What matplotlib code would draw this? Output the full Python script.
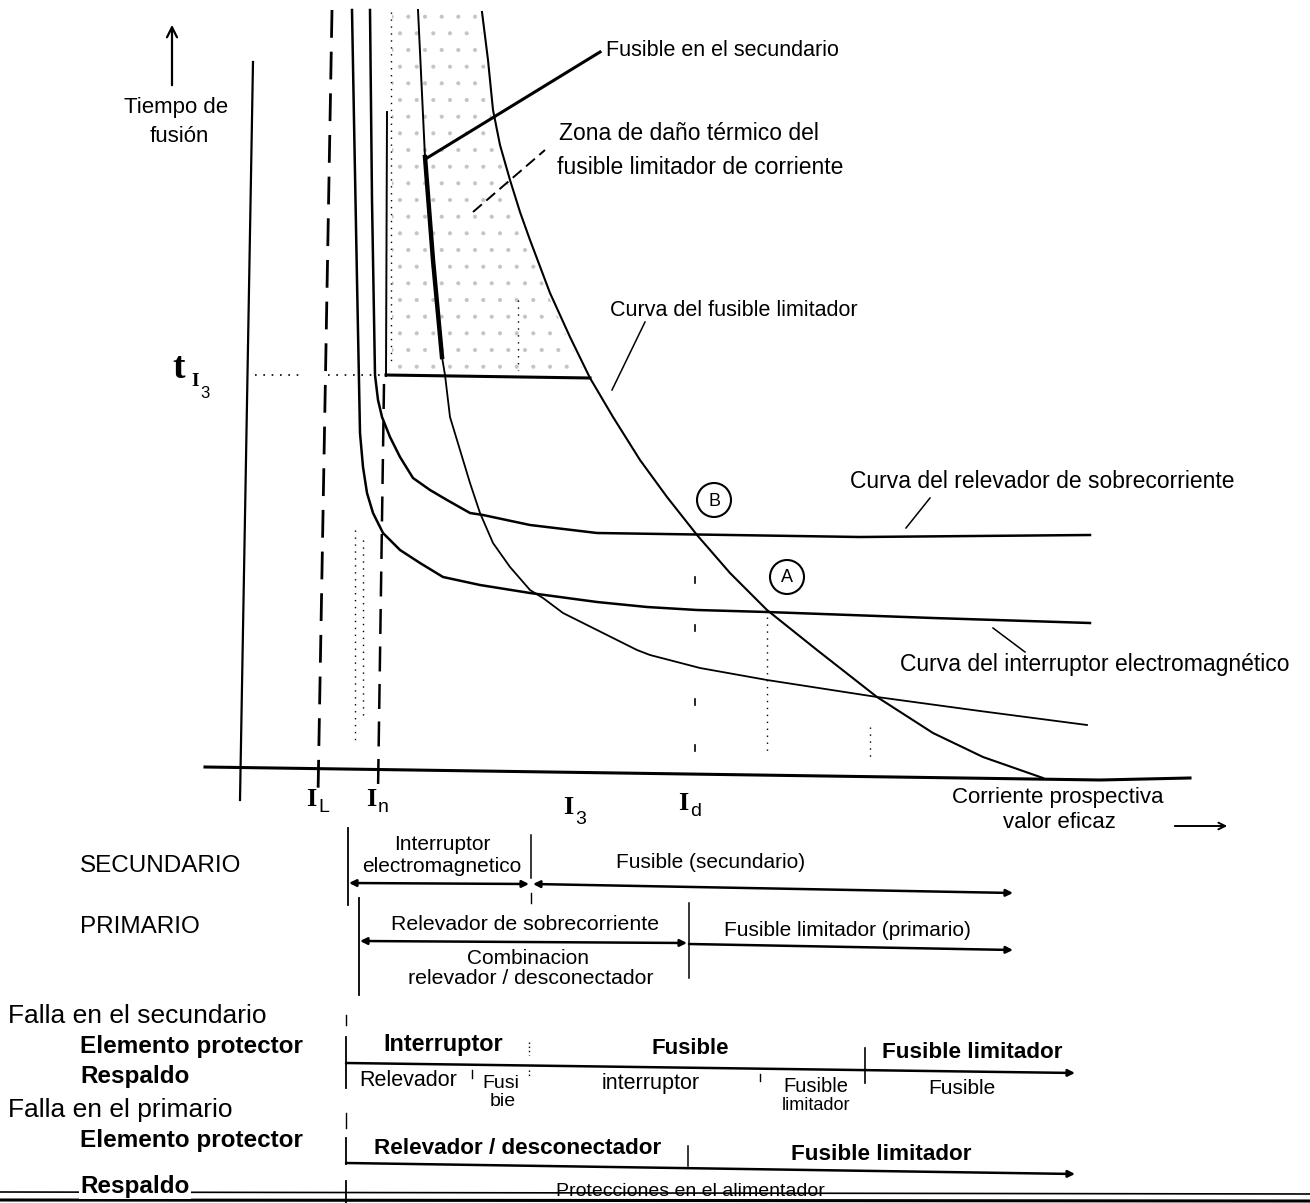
import numpy as np
import matplotlib
matplotlib.use("Agg")
import matplotlib.pyplot as plt
from matplotlib.patches import Circle

plt.rcParams['font.family'] = ['Liberation Sans', 'DejaVu Sans']
plt.rcParams['hatch.linewidth'] = 0.5

# ---- curve data (diagram units, y grows downward) ----
interruptor_x = [352, 354, 357, 360, 363, 367, 373, 383, 400, 420, 443, 480, 530, 597, 647, 697, 767, 850, 933, 1090]
interruptor_y = [10, 120, 280, 433, 467, 493, 513, 533, 550, 563, 577, 585, 593, 602, 607, 610, 612, 615, 618, 623]

relevador_x = [370, 372, 375, 378, 382, 390, 400, 413, 430, 447, 470, 483, 530, 597, 663, 730, 860, 1090]
relevador_y = [10, 200, 375, 400, 417, 437, 457, 478, 490, 500, 513, 515, 525, 533, 534, 535, 537, 535]

fus_sec_top_x = [418, 425]
fus_sec_top_y = [10, 157]
fus_sec_thick_x = [425, 433, 442]
fus_sec_thick_y = [157, 260, 357]
fus_sec_x = [442, 445, 450, 460, 470, 480, 493, 510, 530, 543, 563, 597, 637, 650, 700, 767, 877, 980, 1087]
fus_sec_y = [357, 375, 417, 450, 483, 513, 543, 567, 590, 598, 613, 630, 650, 655, 668, 680, 697, 711, 725]

limitador_x = [482, 488, 493, 500, 510, 520, 530, 550, 570, 590, 613, 640, 667, 697, 730, 767, 817, 877, 933, 983, 1043]
limitador_y = [12, 60, 110, 145, 180, 212, 240, 293, 337, 378, 417, 460, 497, 535, 573, 610, 650, 697, 733, 757, 778]

tI3_level = 376
Id_tick_y = [580, 628, 702, 748]

fig = plt.figure(figsize=(13.10, 12.03), dpi=100)
ax = fig.add_axes([0, 0, 1, 1])
ax.set_xlim(0, 1310)
ax.set_ylim(1203, 0)
ax.axis('off')

K = 'black'

# stippled thermal damage zone
yy = np.linspace(10, tI3_level - 4, 60)
xr = np.interp(yy, limitador_y, limitador_x)
ax.fill_betweenx(yy, 392, xr - 3, facecolor='none', edgecolor='#c4c4c4', hatch='.', linewidth=0)

# axes
ax.plot([253, 240], [62, 800], color=K, lw=1.6)
ax.plot([205, 1100, 1190], [767, 780, 778], color=K, lw=2.2)
ax.annotate('', xy=(172, 22), xytext=(172, 88),
            arrowprops=dict(arrowstyle='->', color=K, lw=1.6, mutation_scale=18))

# I_L and I_n verticals
ax.plot([332, 318], [10, 795], color=K, lw=2, dashes=(10, 5))
ax.plot([387, 386], [112, 376], color=K, lw=1.4)
ax.plot([384, 378], [384, 792], color=K, lw=1.8, dashes=(10, 5))

# curves
ax.plot(interruptor_x, interruptor_y, color=K, lw=1.8)
ax.plot(relevador_x, relevador_y, color=K, lw=1.8)
ax.plot(fus_sec_top_x, fus_sec_top_y, color=K, lw=1.4)
ax.plot(fus_sec_thick_x, fus_sec_thick_y, color=K, lw=3.2)
ax.plot(fus_sec_x, fus_sec_y, color=K, lw=1.3)
ax.plot(limitador_x, limitador_y, color=K, lw=1.5)

# t_I3 level
ax.plot([255, 300], [375, 375], color=K, lw=1.2, ls=(0, (1, 4)))
ax.plot([328, 384], [375, 375], color=K, lw=1.2, ls=(0, (1, 4)))
ax.plot([386, 590], [375, 378], color=K, lw=2.2)

# dotted verticals
for xv, y0, y1 in [(767, 617, 755), (870, 727, 758), (518, 300, 370),
                   (355, 530, 740), (363, 540, 720), (391, 12, 365)]:
    ax.plot([xv, xv], [y0, y1], color=K, lw=1.0, ls=(0, (1, 4)))
for yv in Id_tick_y:
    ax.plot([695, 695], [yv - 3, yv + 3], color=K, lw=1.2)

# leaders
ax.plot([427, 600], [158, 52], color=K, lw=2.2)
ax.plot([473, 545], [212, 150], color=K, lw=1.4, dashes=(6, 3))
ax.plot([612, 645], [390, 322], color=K, lw=1.1)
ax.plot([906, 930], [528, 498], color=K, lw=1.1)
ax.plot([993, 1025], [628, 652], color=K, lw=1.1)

# circles A, B
for cx, cy, lab in [(714, 500, 'B'), (787, 577, 'A')]:
    ax.add_patch(Circle((cx, cy), 17, fill=False, ec=K, lw=1.5))
    ax.text(cx, cy + 1, lab, ha='center', va='center', fontsize=13)

def T(s, x, y, size=15, ha='left', weight='normal', **kw):
    ax.text(x, y, s, ha=ha, va='center', fontsize=size, fontweight=weight, color=K, **kw)

T("Fusible en el secundario", 606, 50, 15.5)
T("Zona de daño térmico del", 559, 133, 16.5)
T("fusible limitador de corriente", 557, 168, 16.5)
T("Curva del fusible limitador", 610, 310, 15.5)
T("Curva del relevador de sobrecorriente", 850, 482, 16.5)
T("Curva del interruptor electromagnético", 900, 665, 16.5)
T("Tiempo de", 176, 108, 16, ha='center')
T("fusión", 179, 136, 16, ha='center')
T("Corriente prospectiva", 952, 797, 16)
T("valor eficaz", 1003, 823, 16)
ax.annotate('', xy=(1230, 826), xytext=(1172, 826),
            arrowprops=dict(arrowstyle='->', color=K, lw=1.4, mutation_scale=12))

# tick labels
serif = ['Liberation Serif', 'DejaVu Serif']
def sub(x, y, main, s, dx=12, dy=8, size=19, ssize=14):
    ax.text(x, y, main, ha='left', va='center', fontsize=size, fontweight='bold',
            family=serif, color=K)
    ax.text(x + dx, y + dy, s, ha='left', va='center', fontsize=ssize, color=K)

sub(306, 800, 'I', 'L')
sub(366, 800, 'I', 'n')
sub(563, 808, 'I', '3', dy=12)
sub(678, 804, 'I', 'd')
ax.text(172, 368, 't', ha='left', va='center', fontsize=27, fontweight='bold', family=serif, color=K)
ax.text(191, 381, 'I', ha='left', va='center', fontsize=14, fontweight='bold', family=serif, color=K)
ax.text(200, 393, '3', ha='left', va='center', fontsize=12, color=K)

# ---- lower table ----
T("SECUNDARIO", 80, 866, 17.5)
T("PRIMARIO", 80, 927, 17.5)
ax.plot([348, 348], [828, 905], color=K, lw=1.3)
ax.plot([531, 531], [835, 878], color=K, lw=1.1)
ax.plot([531, 531], [893, 903], color=K, lw=1.0)
T("Interruptor", 442, 845, 15, ha='center')
T("electromagnetico", 442, 867, 15, ha='center')
T("Fusible (secundario)", 711, 862, 15, ha='center')
ap = dict(arrowstyle='<|-|>', color=K, lw=1.8, mutation_scale=10, shrinkA=0, shrinkB=0)
ax.annotate('', xy=(529, 884), xytext=(349, 883), arrowprops=ap)
ax.annotate('', xy=(1013, 893), xytext=(533, 884), arrowprops=ap)

ax.plot([359, 359], [898, 995], color=K, lw=1.3)
ax.plot([689, 689], [903, 978], color=K, lw=1.1)
T("Relevador de sobrecorriente", 525, 925, 15.3, ha='center')
T("Fusible limitador (primario)", 847, 930, 15, ha='center')
ax.annotate('', xy=(687, 943), xytext=(360, 941), arrowprops=ap)
ax.annotate('', xy=(1013, 950), xytext=(689, 944),
            arrowprops=dict(arrowstyle='-|>', color=K, lw=1.8, mutation_scale=10, shrinkA=0, shrinkB=0))
T("Combinacion", 528, 958, 15, ha='center')
T("relevador / desconectador", 531, 978, 15.3, ha='center')

# falla en el secundario
T("Falla en el secundario", 8, 1016, 19)
T("Elemento protector", 80, 1047, 17.5, weight='bold')
T("Respaldo", 80, 1077, 17.5, weight='bold')
ax.plot([346, 346], [1037, 1088], color=K, lw=1.3)
ax.plot([346, 346], [1015, 1025], color=K, lw=1.0)
ax.annotate('', xy=(1075, 1073), xytext=(346, 1063),
            arrowprops=dict(arrowstyle='-|>', color=K, lw=1.8, mutation_scale=10, shrinkA=0, shrinkB=0))
ax.plot([865, 865], [1048, 1083], color=K, lw=1.2)
ax.plot([529, 529], [1042, 1055], color=K, lw=1.0, ls=(0, (1, 2)))
ax.plot([529, 529], [1070, 1078], color=K, lw=1.0, ls=(0, (1, 2)))
ax.plot([472, 472], [1070, 1078], color=K, lw=1.0)
ax.plot([760, 760], [1074, 1081], color=K, lw=1.0)
T("Interruptor", 443, 1045, 16.8, ha='center', weight='bold')
T("Fusible", 690, 1048, 16, ha='center', weight='bold')
T("Fusible limitador", 972, 1053, 16.2, ha='center', weight='bold')
T("Relevador", 408, 1080, 15.5, ha='center')
T("Fusi", 501, 1083, 14, ha='center')
T("bie", 503, 1101, 14, ha='center')
T("interruptor", 651, 1083, 15.5, ha='center')
T("Fusible", 816, 1087, 14.5, ha='center')
T("limitador", 816, 1105, 13, ha='center')
T("Fusible", 962, 1089, 15, ha='center')

# falla en el primario
T("Falla en el primario", 8, 1110, 19)
T("Elemento protector", 80, 1141, 17.5, weight='bold')
ax.plot([346, 346], [1138, 1164], color=K, lw=1.3)
ax.plot([346, 346], [1113, 1128], color=K, lw=1.0)
ax.annotate('', xy=(1075, 1174), xytext=(346, 1163),
            arrowprops=dict(arrowstyle='-|>', color=K, lw=1.8, mutation_scale=10, shrinkA=0, shrinkB=0))
ax.plot([688, 688], [1146, 1166], color=K, lw=1.1)
T("Relevador / desconectador", 518, 1148, 16.2, ha='center', weight='bold')
T("Fusible limitador", 881, 1154, 16.2, ha='center', weight='bold')

# bottom respaldo row
ax.plot([0, 1310], [1192, 1194], color=K, lw=1.2)
ax.plot([0, 1310], [1200, 1201], color=K, lw=2.2)
ax.plot([346, 346], [1181, 1203], color=K, lw=1.3)
ax.text(80, 1186, "Respaldo", ha='left', va='center', fontsize=17.5, fontweight='bold', color=K,
        bbox=dict(boxstyle='square,pad=0.05', fc='white', ec='none'))
T("Protecciones en el alimentador", 690, 1192, 14, ha='center')

fig.savefig("out.png", dpi=100)
